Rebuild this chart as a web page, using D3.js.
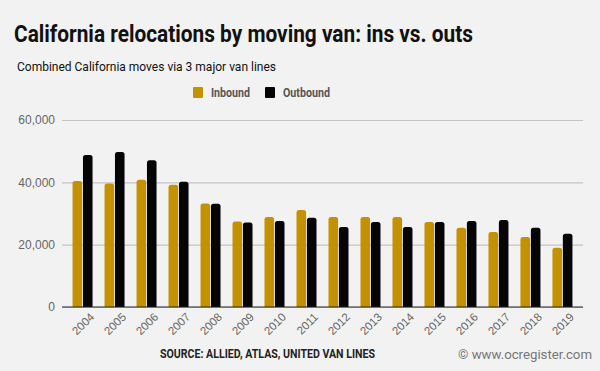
<!DOCTYPE html>
<html>
<head>
<meta charset="utf-8">
<script src="https://cdn.jsdelivr.net/npm/d3@7"></script>
<style>
  body { margin: 0; background: #f2f2f2; }
  svg { display: block; }
</style>
</head>
<body>
<div id="chart"></div>
<script>
const years = ["2004", "2005", "2006", "2007", "2008", "2009", "2010", "2011",
               "2012", "2013", "2014", "2015", "2016", "2017", "2018", "2019"];
const inbound = [40400, 39600, 40800, 39200, 33200, 27400, 28900, 31100,
                 28900, 28900, 28900, 27300, 25400, 24100, 22500, 19000];
const outbound = [48800, 49700, 47100, 40200, 33100, 27100, 27600, 28600,
                  25700, 27300, 25700, 27300, 27600, 27900, 25400, 23500];
const seriesNames = ["Inbound", "Outbound"];
const yTicks = [0, 20000, 40000, 60000];

const width = 600;
const height = 371;
const margin = { top: 120, right: 17, bottom: 64, left: 62 };
const colors = { Inbound: "#c49102", Outbound: "#050505" };

const svg = d3.select("#chart")
    .append("svg")
    .attr("width", width)
    .attr("height", height)
    .style("font-family", "Roboto, sans-serif");

svg.append("rect")
    .attr("width", width)
    .attr("height", height)
    .attr("fill", "#f2f2f2");

const xScale = d3.scaleBand()
    .domain(years)
    .range([margin.left, width - margin.right])
    .paddingInner(0.375)
    .paddingOuter(0.33);

const xInner = d3.scaleBand()
    .domain(seriesNames)
    .range([0, xScale.bandwidth()])
    .paddingInner(0.08);

const yScale = d3.scaleLinear()
    .domain([0, 60000])
    .range([height - margin.bottom, margin.top]);

// gridlines
svg.append("g")
    .attr("transform", `translate(${margin.left},0)`)
    .call(d3.axisLeft(yScale)
        .tickValues(yTicks)
        .tickSize(-(width - margin.left - margin.right))
        .tickFormat(""))
    .call(g => g.select(".domain").remove())
    .selectAll("line")
    .attr("stroke", "#c4c4c4")
    .attr("stroke-width", 1.2);

// y tick labels
svg.append("g")
    .attr("transform", `translate(${margin.left},0)`)
    .call(d3.axisLeft(yScale)
        .tickValues(yTicks)
        .tickSize(0)
        .tickPadding(7)
        .tickFormat(d3.format(",")))
    .call(g => g.select(".domain").remove())
    .selectAll("text")
    .attr("fill", "#666")
    .attr("font-size", "12px");

const rows = years.map((y, i) => ({ year: y, Inbound: inbound[i], Outbound: outbound[i] }));

function barPath(x, y, w, h, r) {
    r = Math.min(r, h, w / 2);
    return `M${x},${y + h}V${y + r}Q${x},${y} ${x + r},${y}H${x + w - r}Q${x + w},${y} ${x + w},${y + r}V${y + h}Z`;
}

const groups = svg.selectAll(".year")
    .data(rows)
    .enter()
    .append("g")
    .attr("class", "year")
    .attr("transform", d => `translate(${xScale(d.year)},0)`);

groups.selectAll("path")
    .data(d => seriesNames.map(s => ({ key: s, value: d[s] })))
    .enter()
    .append("path")
    .attr("fill", d => colors[d.key])
    .attr("d", d => barPath(xInner(d.key), yScale(d.value), xInner.bandwidth(),
        yScale(0) - yScale(d.value), 2.5));

// baseline
svg.append("line")
    .attr("x1", margin.left)
    .attr("x2", width - margin.right)
    .attr("y1", yScale(0))
    .attr("y2", yScale(0))
    .attr("stroke", "#222")
    .attr("stroke-width", 1.2);

// x axis labels
svg.append("g")
    .attr("transform", `translate(0,${yScale(0)})`)
    .call(d3.axisBottom(xScale).tickSize(0).tickPadding(6))
    .call(g => g.select(".domain").remove())
    .selectAll("text")
    .attr("fill", "#666")
    .attr("font-size", "11.5px")
    .attr("text-anchor", "end")
    .attr("transform", "rotate(-45)")
    .attr("dx", "0.1em")
    .attr("dy", "0.9em");

// title and subtitle
svg.append("text")
    .attr("x", 14)
    .attr("y", 42)
    .attr("font-size", "23px")
    .attr("font-weight", "bold")
    .attr("fill", "#111")
    .attr("textLength", 459)
    .attr("lengthAdjust", "spacingAndGlyphs")
    .text("California relocations by moving van: ins vs. outs");

svg.append("text")
    .attr("x", 17)
    .attr("y", 71)
    .attr("font-size", "13px")
    .attr("fill", "#111")
    .attr("textLength", 259)
    .attr("lengthAdjust", "spacingAndGlyphs")
    .text("Combined California moves via 3 major van lines");

// legend
const legendX = [193, 265];
const legendLen = [39, 47];
const legend = svg.selectAll(".legend")
    .data(seriesNames)
    .enter()
    .append("g")
    .attr("class", "legend")
    .attr("transform", (d, i) => `translate(${legendX[i]},87)`);

legend.append("rect")
    .attr("width", 10)
    .attr("height", 11)
    .attr("rx", 1)
    .attr("fill", d => colors[d]);

legend.append("text")
    .attr("x", 18)
    .attr("y", 10)
    .attr("font-size", "12px")
    .attr("font-weight", "bold")
    .attr("fill", "#555")
    .attr("textLength", (d, i) => legendLen[i])
    .attr("lengthAdjust", "spacingAndGlyphs")
    .text(d => d);

// footer
svg.append("text")
    .attr("x", 160)
    .attr("y", 358)
    .attr("font-size", "12px")
    .attr("font-weight", "bold")
    .attr("fill", "#222")
    .attr("textLength", 215)
    .attr("lengthAdjust", "spacingAndGlyphs")
    .text("SOURCE: ALLIED, ATLAS, UNITED VAN LINES");

svg.append("text")
    .attr("x", 458)
    .attr("y", 359)
    .attr("font-size", "13px")
    .attr("fill", "#777")
    .attr("textLength", 134)
    .attr("lengthAdjust", "spacingAndGlyphs")
    .text("© www.ocregister.com");
</script>
</body>
</html>
